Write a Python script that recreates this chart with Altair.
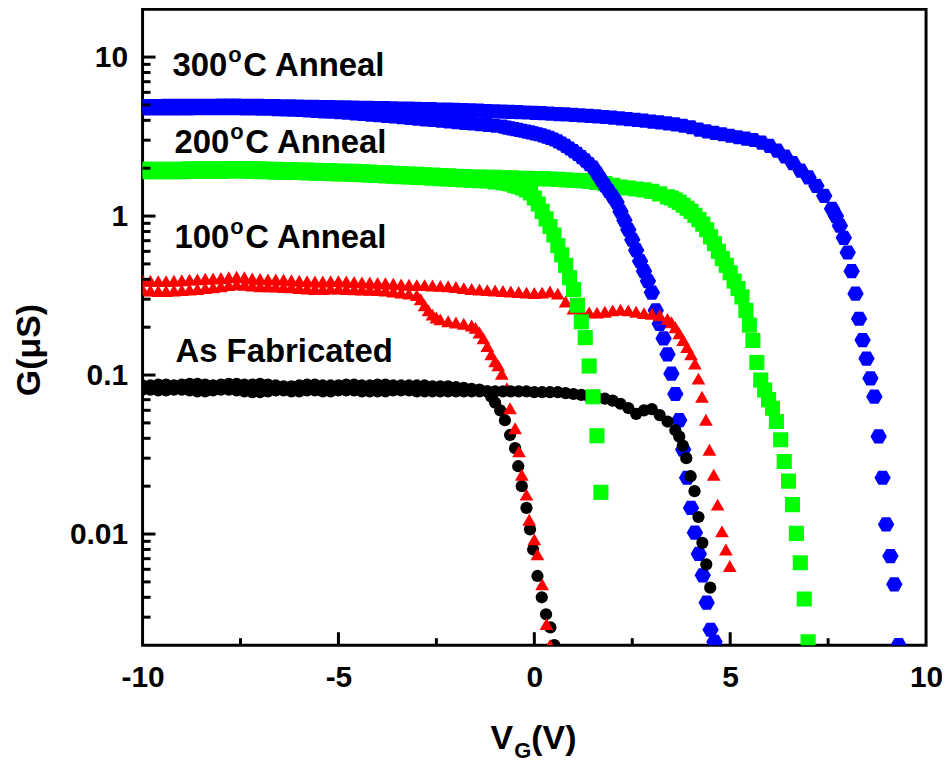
import altair as alt
import pandas as pd

# ---------------- data ----------------
samples = ["As Fabricated", "100°C Anneal", "200°C Anneal", "300°C Anneal"]
colors = ["#000000", "#ff0000", "#00ff00", "#0000ff"]

FLAT_START = -10.0   # flat parts are sampled every 0.2 V starting at -10 V
FLAT_STEP = 0.2

# As fabricated, sweep A (drops near 0 V)
black_a_flat = [0.086, 0.086, 0.087, 0.087, 0.086, 0.087, 0.088, 0.088, 0.087, 0.086,
                0.087, 0.088, 0.088, 0.087, 0.087, 0.088, 0.087, 0.086, 0.085, 0.085,
                0.086, 0.087, 0.087, 0.086, 0.086, 0.086, 0.087, 0.087, 0.086, 0.086,
                0.087, 0.087, 0.086, 0.086, 0.086, 0.086, 0.086, 0.085, 0.085, 0.085,
                0.084, 0.083, 0.082, 0.081, 0.079]
black_a_tail_v = [-1.1, -1.0, -0.87, -0.75, -0.62, -0.49, -0.41, -0.32, -0.20, -0.11,
                  -0.03, 0.08, 0.19, 0.30, 0.41, 0.51]
black_a_tail_g = [0.073, 0.067, 0.060, 0.052, 0.042, 0.0347, 0.0267, 0.020, 0.0146, 0.0107,
                  0.0080, 0.00545, 0.0040, 0.00313, 0.00259, 0.0020]

# As fabricated, sweep B (drops near 4 V)
black_b_flat = [0.081, 0.081, 0.080, 0.080, 0.081, 0.081, 0.080, 0.079, 0.079, 0.080,
                0.081, 0.081, 0.080, 0.079, 0.078, 0.078, 0.079, 0.080, 0.080, 0.079,
                0.079, 0.080, 0.080, 0.079, 0.079, 0.080, 0.080, 0.080, 0.079, 0.079,
                0.079, 0.079, 0.080, 0.080, 0.080, 0.079, 0.079, 0.079, 0.079, 0.079,
                0.079, 0.079, 0.079, 0.079, 0.079, 0.079, 0.079, 0.079, 0.079, 0.079,
                0.078, 0.078, 0.078, 0.078, 0.077, 0.076, 0.075, 0.073, 0.072, 0.071,
                0.069, 0.066, 0.062, 0.057, 0.060, 0.061, 0.056, 0.051, 0.045]
black_b_tail_v = [3.7, 3.79, 3.88, 3.99, 4.09, 4.19, 4.29, 4.39, 4.49]
black_b_tail_g = [0.041, 0.036, 0.030, 0.0231, 0.0186, 0.0128, 0.0088, 0.00645, 0.0046]

# 100 C anneal, sweep A
red_a_flat = [0.345, 0.340, 0.338, 0.338, 0.340, 0.342, 0.345, 0.348, 0.352, 0.356,
              0.362, 0.368, 0.372, 0.370, 0.365, 0.362, 0.362, 0.360, 0.358, 0.356,
              0.352, 0.350, 0.348, 0.348, 0.350, 0.350, 0.348, 0.346, 0.345, 0.344,
              0.342, 0.340, 0.335, 0.330, 0.325, 0.318]
red_a_tail_v = [-2.9, -2.8, -2.7, -2.6, -2.5, -2.4, -2.2, -2.0, -1.8, -1.6,
                -1.5, -1.4, -1.3, -1.2, -1.1, -1.0, -0.92, -0.83, -0.70, -0.62,
                -0.49, -0.39, -0.32, -0.20, -0.13, 0.0, 0.08, 0.20, 0.31, 0.40]
red_a_tail_g = [0.300, 0.275, 0.255, 0.240, 0.230, 0.224, 0.218, 0.214, 0.210, 0.205,
                0.198, 0.185, 0.170, 0.152, 0.135, 0.122, 0.115, 0.102, 0.0826, 0.0618,
                0.0463, 0.0331, 0.0236, 0.0177, 0.0123, 0.00925, 0.00745, 0.00483, 0.00272, 0.0020]

# 100 C anneal, sweep B
red_b_flat = [0.395, 0.392, 0.390, 0.390, 0.392, 0.395, 0.398, 0.400, 0.403, 0.405,
              0.408, 0.412, 0.415, 0.412, 0.405, 0.402, 0.400, 0.400, 0.398, 0.395,
              0.392, 0.390, 0.388, 0.388, 0.390, 0.390, 0.388, 0.385, 0.383, 0.382,
              0.380, 0.378, 0.375, 0.372, 0.370, 0.368, 0.368, 0.366, 0.364, 0.362,
              0.358, 0.352, 0.348, 0.345, 0.342, 0.340, 0.338, 0.335, 0.333, 0.330,
              0.328, 0.330, 0.335, 0.325, 0.290, 0.262, 0.252, 0.248, 0.247, 0.250,
              0.255, 0.258, 0.255, 0.250, 0.245, 0.243, 0.238, 0.225]
red_b_tail_v = [3.5, 3.6, 3.7, 3.8, 3.9, 4.0, 4.1, 4.19, 4.28, 4.38,
                4.47, 4.58, 4.68, 4.79, 4.89, 4.99]
red_b_tail_g = [0.215, 0.200, 0.183, 0.166, 0.150, 0.135, 0.118, 0.095, 0.073, 0.0523,
                0.0339, 0.0236, 0.0153, 0.0104, 0.0080, 0.0063]

# 200 C anneal, sweep A
green_a_flat = [1.90, 1.90, 1.90, 1.90, 1.90, 1.90, 1.91, 1.91, 1.91, 1.91,
                1.91, 1.92, 1.92, 1.92, 1.91, 1.90, 1.90, 1.89, 1.89, 1.88,
                1.88, 1.87, 1.86, 1.86, 1.85, 1.84, 1.84, 1.83, 1.82, 1.81,
                1.80, 1.79, 1.78, 1.77, 1.76, 1.75, 1.74, 1.73, 1.72, 1.71,
                1.70, 1.69, 1.68, 1.67, 1.66, 1.64, 1.62]
green_a_tail_v = [-0.7, -0.6, -0.5, -0.4, -0.3, -0.2, -0.1, 0.0, 0.1, 0.2,
                  0.3, 0.4, 0.5, 0.6, 0.7, 0.8, 0.9, 1.0, 1.1, 1.2,
                  1.3, 1.4, 1.5, 1.6, 1.7]
green_a_tail_g = [1.61, 1.59, 1.56, 1.53, 1.50, 1.46, 1.40, 1.30, 1.19, 1.07,
                  0.96, 0.86, 0.76, 0.65, 0.57, 0.49, 0.41, 0.345, 0.275, 0.216,
                  0.172, 0.114, 0.073, 0.0415, 0.0183]

# 200 C anneal, sweep B
green_b_flat = [1.97, 1.97, 1.97, 1.97, 1.97, 1.97, 1.98, 1.98, 1.98, 1.98,
                1.98, 1.99, 1.99, 1.99, 1.98, 1.98, 1.97, 1.97, 1.96, 1.96,
                1.95, 1.95, 1.94, 1.93, 1.93, 1.92, 1.91, 1.91, 1.90, 1.89,
                1.88, 1.87, 1.86, 1.85, 1.84, 1.83, 1.82, 1.81, 1.80, 1.79,
                1.78, 1.77, 1.76, 1.76, 1.75, 1.75, 1.74, 1.74, 1.73, 1.73,
                1.72, 1.72, 1.71, 1.70, 1.69, 1.68, 1.67, 1.65, 1.63, 1.60,
                1.56, 1.52, 1.50, 1.48, 1.46, 1.43, 1.38, 1.32]
green_b_tail_v = [3.5, 3.6, 3.7, 3.8, 3.9, 4.0, 4.1, 4.2, 4.3, 4.4,
                  4.5, 4.6, 4.7, 4.8, 4.9, 5.0, 5.1, 5.2, 5.3, 5.4,
                  5.49, 5.58, 5.68, 5.78, 5.88, 5.98, 6.08, 6.18, 6.29, 6.38,
                  6.49, 6.59, 6.69, 6.79, 6.89, 6.99]
green_b_tail_g = [1.30, 1.26, 1.22, 1.17, 1.12, 1.07, 1.01, 0.95, 0.89, 0.82,
                  0.74, 0.67, 0.60, 0.54, 0.49, 0.44, 0.39, 0.35, 0.31, 0.255,
                  0.206, 0.165, 0.120, 0.093, 0.0806, 0.070, 0.0618, 0.051, 0.0392, 0.0286,
                  0.0215, 0.0153, 0.0101, 0.0066, 0.0039, 0.0021]

# 300 C anneal, sweep A
blue_a_flat = [4.75, 4.75, 4.75, 4.76, 4.76, 4.76, 4.76, 4.77, 4.77, 4.77,
               4.77, 4.77, 4.77, 4.76, 4.75, 4.74, 4.73, 4.71, 4.69, 4.67,
               4.65, 4.62, 4.59, 4.56, 4.53, 4.50, 4.47, 4.43, 4.39, 4.35,
               4.31, 4.27, 4.23, 4.19, 4.15, 4.10, 4.06, 4.02, 3.98, 3.94,
               3.90, 3.86, 3.82, 3.78, 3.74, 3.70, 3.65]
blue_a_tail_v = [-0.7, -0.6, -0.5, -0.4, -0.3, -0.2, -0.1, 0.0, 0.1, 0.2,
                 0.3, 0.4, 0.5, 0.6, 0.7, 0.8, 0.9, 1.0, 1.1, 1.2,
                 1.3, 1.4, 1.5, 1.6, 1.7, 1.8, 1.9, 2.0, 2.1, 2.2,
                 2.3, 2.4, 2.5, 2.6, 2.7, 2.8, 2.9, 3.0, 3.1, 3.2,
                 3.3, 3.4, 3.5, 3.6, 3.7, 3.8, 3.9, 4.0, 4.1, 4.2,
                 4.3, 4.4, 4.5, 4.6]
blue_a_tail_g = [3.60, 3.56, 3.52, 3.48, 3.44, 3.40, 3.36, 3.31, 3.27, 3.22,
                 3.16, 3.10, 3.03, 2.95, 2.86, 2.76, 2.66, 2.56, 2.46, 2.35,
                 2.24, 2.12, 2.02, 1.86, 1.70, 1.56, 1.44, 1.33, 1.22, 1.07,
                 0.94, 0.82, 0.71, 0.61, 0.52, 0.45, 0.39, 0.33, 0.255, 0.21,
                 0.17, 0.135, 0.102, 0.076, 0.052, 0.034, 0.0226, 0.0146, 0.0102, 0.0075,
                 0.0055, 0.0037, 0.0025, 0.0021]

# 300 C anneal, sweep B
blue_b_flat = [4.92, 4.92, 4.92, 4.93, 4.93, 4.93, 4.93, 4.94, 4.94, 4.94,
               4.95, 4.95, 4.95, 4.94, 4.94, 4.93, 4.92, 4.91, 4.90, 4.89,
               4.88, 4.87, 4.86, 4.85, 4.84, 4.83, 4.82, 4.81, 4.80, 4.79,
               4.78, 4.77, 4.76, 4.75, 4.74, 4.72, 4.71, 4.70, 4.68, 4.67,
               4.65, 4.64, 4.62, 4.60, 4.58, 4.56, 4.54, 4.52, 4.50, 4.48,
               4.46, 4.44, 4.41, 4.38, 4.36, 4.33, 4.30, 4.27, 4.24, 4.20,
               4.16, 4.12, 4.07, 4.03, 3.98, 3.93, 3.88, 3.83, 3.77, 3.70,
               3.62, 3.50, 3.41, 3.34, 3.27, 3.20, 3.13, 3.07, 3.01, 2.90,
               2.76, 2.58, 2.37, 2.15, 1.93, 1.75, 1.55, 1.34, 1.11]
blue_b_tail_v = [7.7, 7.8, 7.9, 8.0, 8.1, 8.2, 8.29, 8.38, 8.48, 8.58,
                 8.68, 8.79, 8.89, 8.98, 9.09, 9.19, 9.3]
blue_b_tail_g = [1.0, 0.87, 0.73, 0.59, 0.45, 0.325, 0.226, 0.166, 0.127, 0.0953,
                 0.0731, 0.0411, 0.0226, 0.0115, 0.00727, 0.00483, 0.0020]

# axis tick values
x_major = [-10, -5, 0, 5, 10]
x_minor = [-7.5, -2.5, 2.5, 7.5]
y_major = [0.01, 0.1, 1, 10]
y_minor = [0.003, 0.004, 0.005, 0.006, 0.007, 0.008, 0.009,
           0.02, 0.03, 0.04, 0.05, 0.06, 0.07, 0.08, 0.09,
           0.2, 0.3, 0.4, 0.5, 0.6, 0.7, 0.8, 0.9,
           2, 3, 4, 5, 6, 7, 8, 9]

# annotation texts: temperature, superscript "o", rest
anneal_temps = ["300", "200", "100"]
anneal_sup = "o"
anneal_rest = "C Anneal"
fab_label = "As Fabricated"

# ---------------- build table (drawing order = list order) ----------------
sweeps = [
    (samples[0], black_a_flat, black_a_tail_v, black_a_tail_g),
    (samples[1], red_a_flat, red_a_tail_v, red_a_tail_g),
    (samples[2], green_b_flat, green_b_tail_v, green_b_tail_g),
    (samples[3], blue_a_flat, blue_a_tail_v, blue_a_tail_g),
    (samples[0], black_b_flat, black_b_tail_v, black_b_tail_g),
    (samples[1], red_b_flat, red_b_tail_v, red_b_tail_g),
    (samples[2], green_a_flat, green_a_tail_v, green_a_tail_g),
    (samples[3], blue_b_flat, blue_b_tail_v, blue_b_tail_g),
]
rows = []
for name, flat, tv, tg in sweeps:
    for i, g in enumerate(flat):
        rows.append({"V": round(FLAT_START + FLAT_STEP * i, 3), "G": g, "sample": name})
    for v, g in zip(tv, tg):
        rows.append({"V": v, "G": g, "sample": name})
df = pd.DataFrame(rows)

# ---------------- chart ----------------
FONT = "Liberation Sans"
W, H = 786, 638
hexagon = "M-1,0L-0.5,-0.866L0.5,-0.866L1,0L0.5,0.866L-0.5,0.866Z"
shapes = ["circle", "triangle-up", "square", hexagon]
sizes = [150, 270, 115, 200]

x_scale = alt.Scale(domain=[-10, 10], nice=False, zero=False)
y_scale = alt.Scale(type="log", domain=[0.002, 20], nice=False)

x_axis = alt.Axis(values=x_major, labelExpr="datum.value + ''", title="",
                  grid=False, domain=False, ticks=False, labelPadding=17,
                  labelFlush=False, labelFont=FONT, labelFontSize=30,
                  labelFontWeight="bold", labelColor="black")
y_axis = alt.Axis(values=y_major, labelExpr="datum.value + ''", title="",
                  grid=False, domain=False, ticks=False, labelPadding=15,
                  labelFlush=False, labelFont=FONT, labelFontSize=30,
                  labelFontWeight="bold", labelColor="black")

points = alt.Chart(df).mark_point(filled=True, opacity=1, strokeWidth=0, clip=True).encode(
    x=alt.X("V:Q", scale=x_scale, axis=x_axis),
    y=alt.Y("G:Q", scale=y_scale, axis=y_axis),
    color=alt.Color("sample:N", scale=alt.Scale(domain=samples, range=colors), legend=None),
    shape=alt.Shape("sample:N", scale=alt.Scale(domain=samples, range=shapes), legend=None),
    size=alt.Size("sample:O", scale=alt.Scale(domain=samples, range=sizes), legend=None),
)


def yticks(vals, length):
    return alt.Chart(pd.DataFrame({"t": vals})).mark_rule(color="black", strokeWidth=3).encode(
        y=alt.Y("t:Q", scale=y_scale, axis=y_axis), x=alt.value(0), x2=alt.value(length))


def xticks(vals, length):
    return alt.Chart(pd.DataFrame({"t": vals})).mark_rule(color="black", strokeWidth=3).encode(
        x=alt.X("t:Q", scale=x_scale, axis=x_axis), y=alt.value(H), y2=alt.value(H - length))


def text(label, x, y, size, angle=0, align="left", baseline="alphabetic"):
    return alt.Chart(alt.Data(values=[{}])).mark_text(
        font=FONT, fontSize=size, fontWeight="bold", color="black",
        align=align, baseline=baseline, angle=angle,
    ).encode(text=alt.value(label), x=alt.value(x), y=alt.value(y))


def anneal_label(temp, x0, base):
    return [
        text(temp, x0, base, 33),
        text(anneal_sup, x0 + 56, base - 14, 22),
        text(anneal_rest, x0 + 71, base, 33),
    ]


layers = [
    points,
    yticks(y_major, 13), yticks(y_minor, 8),
    xticks(x_major[1:-1], 13), xticks(x_minor, 7),
    *anneal_label(anneal_temps[0], 30, 67),
    *anneal_label(anneal_temps[1], 32, 144),
    *anneal_label(anneal_temps[2], 32, 240),
    text(fab_label, 33, 354, 33),
    text("G(μS)", -113, 342, 34, angle=270, align="center", baseline="middle"),
    text("V", 349, 742, 34),
    text("G", 373, 751, 22),
    text("(V)", 390, 742, 34),
]

chart = alt.layer(*layers).properties(
    width=W, height=H,
    autosize=alt.AutoSizeParams(type="none"),
    padding={"left": 135, "top": 0, "right": 16, "bottom": 117},
).configure_view(stroke="black", strokeWidth=3)

chart.save("out.html", embed_options={"renderer": "svg", "actions": False})
